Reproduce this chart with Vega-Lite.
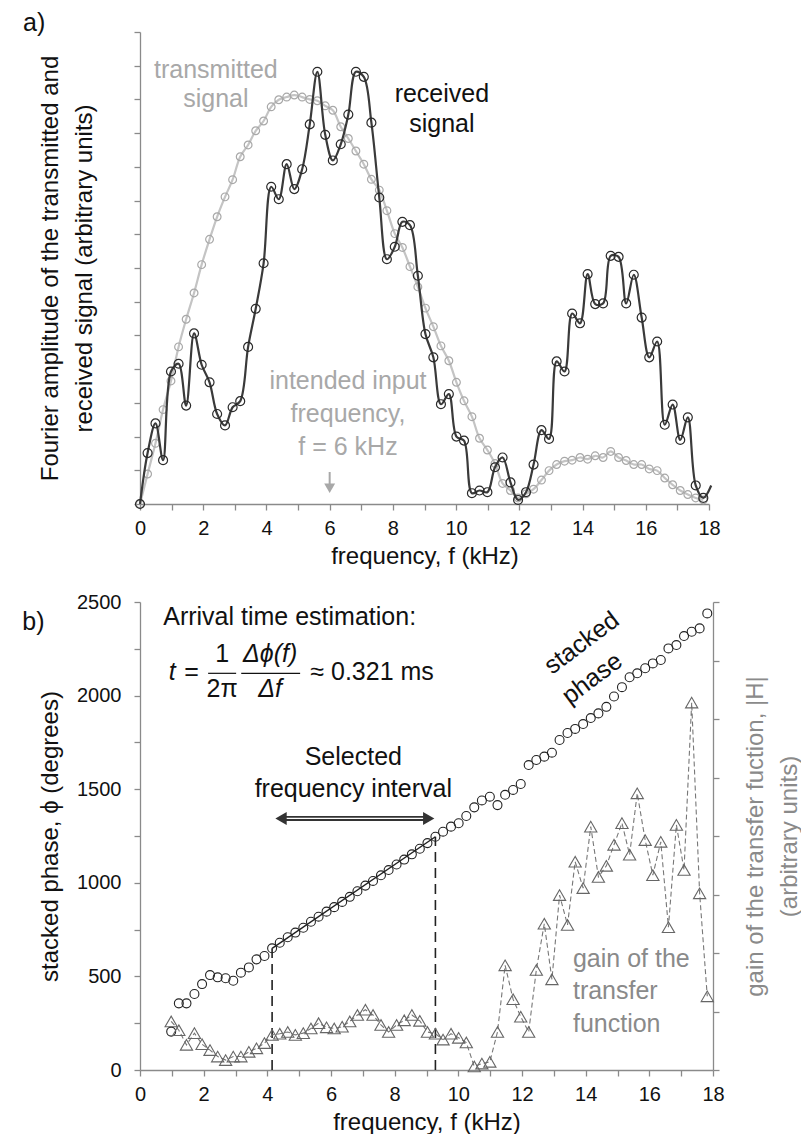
{
  "$schema": "https://vega.github.io/schema/vega-lite/v6.json",
  "padding": {"left": 22, "top": 10, "right": 0, "bottom": 0},
  "spacing": 24,
  "config": {
    "font": "Liberation Sans, Roboto, sans-serif",
    "view": {"stroke": null},
    "axis": {
      "grid": false,
      "domainColor": "#8a8a8a",
      "tickColor": "#8a8a8a",
      "domainWidth": 1.3,
      "tickWidth": 1.3,
      "tickSize": 6,
      "labelFont": "Liberation Sans, Roboto, sans-serif",
      "labelFontSize": 20,
      "labelColor": "#111111",
      "titleFont": "Liberation Sans, Roboto, sans-serif",
      "titleFontSize": 24,
      "titleFontWeight": "normal",
      "titleColor": "#111111",
      "labelOverlap": false,
      "labelFlush": false
    },
    "text": {"font": "Liberation Sans, Roboto, sans-serif", "fontSize": 25}
  },
  "datasets": {
    "received": [
      {"f": 0, "v": 0}, {"f": 0.24, "v": 1.51}, {"f": 0.49, "v": 2.39}, {"f": 0.73, "v": 1.30},
      {"f": 0.98, "v": 3.93}, {"f": 1.22, "v": 4.16}, {"f": 1.46, "v": 2.92}, {"f": 1.71, "v": 5.06},
      {"f": 1.95, "v": 4.13}, {"f": 2.20, "v": 3.61}, {"f": 2.44, "v": 2.67}, {"f": 2.69, "v": 2.33},
      {"f": 2.93, "v": 2.87}, {"f": 3.17, "v": 3.05}, {"f": 3.42, "v": 4.66}, {"f": 3.66, "v": 5.79},
      {"f": 3.91, "v": 7.14}, {"f": 4.15, "v": 9.41}, {"f": 4.39, "v": 9.04}, {"f": 4.64, "v": 10.08},
      {"f": 4.88, "v": 9.34}, {"f": 5.13, "v": 9.93}, {"f": 5.37, "v": 11.26}, {"f": 5.61, "v": 12.82},
      {"f": 5.86, "v": 10.95}, {"f": 6.10, "v": 10.19}, {"f": 6.35, "v": 10.67}, {"f": 6.59, "v": 11.55},
      {"f": 6.83, "v": 12.82}, {"f": 7.08, "v": 12.67}, {"f": 7.32, "v": 11.31}, {"f": 7.57, "v": 9.09},
      {"f": 7.81, "v": 7.26}, {"f": 8.06, "v": 7.63}, {"f": 8.30, "v": 8.37}, {"f": 8.54, "v": 8.27},
      {"f": 8.79, "v": 6.77}, {"f": 9.03, "v": 5.04}, {"f": 9.28, "v": 4.35}, {"f": 9.52, "v": 2.96},
      {"f": 9.77, "v": 3.26}, {"f": 10.01, "v": 2.00}, {"f": 10.25, "v": 1.88}, {"f": 10.50, "v": 0.32},
      {"f": 10.74, "v": 0.40}, {"f": 10.99, "v": 0.35}, {"f": 11.23, "v": 1.09}, {"f": 11.47, "v": 1.38},
      {"f": 11.72, "v": 0.64}, {"f": 11.96, "v": 0.12}, {"f": 12.21, "v": 0.35}, {"f": 12.45, "v": 1.17},
      {"f": 12.70, "v": 2.19}, {"f": 12.94, "v": 1.93}, {"f": 13.18, "v": 4.23}, {"f": 13.43, "v": 3.93},
      {"f": 13.67, "v": 5.65}, {"f": 13.92, "v": 5.36}, {"f": 14.16, "v": 6.82}, {"f": 14.40, "v": 5.93},
      {"f": 14.65, "v": 5.95}, {"f": 14.89, "v": 7.36}, {"f": 15.14, "v": 7.33}, {"f": 15.38, "v": 5.95},
      {"f": 15.62, "v": 6.80}, {"f": 15.87, "v": 5.53}, {"f": 16.11, "v": 4.35}, {"f": 16.36, "v": 4.82},
      {"f": 16.60, "v": 2.35}, {"f": 16.85, "v": 2.95}, {"f": 17.09, "v": 1.90}, {"f": 17.33, "v": 2.57},
      {"f": 17.58, "v": 0.55}, {"f": 17.82, "v": 0.18}, {"f": 18.07, "v": 0.55}
    ],
    "transmitted": [
      {"f": 0, "v": 0}, {"f": 0.24, "v": 0.89}, {"f": 0.49, "v": 1.80}, {"f": 0.73, "v": 2.80},
      {"f": 0.98, "v": 3.65}, {"f": 1.22, "v": 4.66}, {"f": 1.46, "v": 5.48}, {"f": 1.71, "v": 6.26},
      {"f": 1.95, "v": 7.10}, {"f": 2.20, "v": 7.85}, {"f": 2.44, "v": 8.52}, {"f": 2.69, "v": 9.11},
      {"f": 2.93, "v": 9.62}, {"f": 3.17, "v": 10.30}, {"f": 3.42, "v": 10.65}, {"f": 3.66, "v": 11.07},
      {"f": 3.91, "v": 11.36}, {"f": 4.15, "v": 11.78}, {"f": 4.39, "v": 11.99}, {"f": 4.64, "v": 12.07},
      {"f": 4.88, "v": 12.13}, {"f": 5.13, "v": 12.07}, {"f": 5.37, "v": 12.00}, {"f": 5.61, "v": 11.96},
      {"f": 5.86, "v": 11.81}, {"f": 6.10, "v": 11.68}, {"f": 6.35, "v": 11.19}, {"f": 6.59, "v": 10.84},
      {"f": 6.83, "v": 10.47}, {"f": 7.08, "v": 10.08}, {"f": 7.32, "v": 9.63}, {"f": 7.57, "v": 9.31},
      {"f": 7.81, "v": 8.70}, {"f": 8.06, "v": 8.02}, {"f": 8.30, "v": 7.61}, {"f": 8.54, "v": 7.04},
      {"f": 8.79, "v": 6.44}, {"f": 9.03, "v": 5.81}, {"f": 9.28, "v": 5.26}, {"f": 9.52, "v": 4.69},
      {"f": 9.77, "v": 4.25}, {"f": 10.01, "v": 3.61}, {"f": 10.25, "v": 3.06}, {"f": 10.50, "v": 2.59},
      {"f": 10.74, "v": 1.95}, {"f": 10.99, "v": 1.60}, {"f": 11.23, "v": 1.20}, {"f": 11.47, "v": 0.61},
      {"f": 11.72, "v": 0.40}, {"f": 11.96, "v": 0.18}, {"f": 12.21, "v": 0.30}, {"f": 12.45, "v": 0.44},
      {"f": 12.70, "v": 0.71}, {"f": 12.94, "v": 0.99}, {"f": 13.18, "v": 1.17}, {"f": 13.43, "v": 1.27},
      {"f": 13.67, "v": 1.30}, {"f": 13.92, "v": 1.38}, {"f": 14.16, "v": 1.33}, {"f": 14.40, "v": 1.43},
      {"f": 14.65, "v": 1.38}, {"f": 14.89, "v": 1.56}, {"f": 15.14, "v": 1.38}, {"f": 15.38, "v": 1.29},
      {"f": 15.62, "v": 1.17}, {"f": 15.87, "v": 1.17}, {"f": 16.11, "v": 1.04}, {"f": 16.36, "v": 0.99},
      {"f": 16.60, "v": 0.77}, {"f": 16.85, "v": 0.57}, {"f": 17.09, "v": 0.40}, {"f": 17.33, "v": 0.28},
      {"f": 17.58, "v": 0.18}, {"f": 17.82, "v": 0.12}
    ],
    "phase": [
      {"f": 0.98, "ph": 205}, {"f": 1.22, "ph": 356}, {"f": 1.46, "ph": 356}, {"f": 1.71, "ph": 406},
      {"f": 1.95, "ph": 459}, {"f": 2.20, "ph": 507}, {"f": 2.44, "ph": 495}, {"f": 2.69, "ph": 490},
      {"f": 2.93, "ph": 477}, {"f": 3.17, "ph": 520}, {"f": 3.42, "ph": 548}, {"f": 3.66, "ph": 591},
      {"f": 3.91, "ph": 609}, {"f": 4.15, "ph": 650}, {"f": 4.39, "ph": 680}, {"f": 4.64, "ph": 709},
      {"f": 4.88, "ph": 734}, {"f": 5.13, "ph": 760}, {"f": 5.37, "ph": 792}, {"f": 5.61, "ph": 819},
      {"f": 5.86, "ph": 846}, {"f": 6.10, "ph": 870}, {"f": 6.35, "ph": 898}, {"f": 6.59, "ph": 925},
      {"f": 6.83, "ph": 955}, {"f": 7.08, "ph": 985}, {"f": 7.32, "ph": 1010}, {"f": 7.57, "ph": 1040},
      {"f": 7.81, "ph": 1068}, {"f": 8.06, "ph": 1098}, {"f": 8.30, "ph": 1124}, {"f": 8.54, "ph": 1152},
      {"f": 8.79, "ph": 1182}, {"f": 9.03, "ph": 1212}, {"f": 9.28, "ph": 1246}, {"f": 9.52, "ph": 1273},
      {"f": 9.77, "ph": 1300}, {"f": 10.01, "ph": 1318}, {"f": 10.25, "ph": 1357}, {"f": 10.50, "ph": 1403},
      {"f": 10.74, "ph": 1440}, {"f": 10.99, "ph": 1460}, {"f": 11.23, "ph": 1415}, {"f": 11.47, "ph": 1470},
      {"f": 11.72, "ph": 1496}, {"f": 11.96, "ph": 1528}, {"f": 12.21, "ph": 1629}, {"f": 12.45, "ph": 1656},
      {"f": 12.70, "ph": 1674}, {"f": 12.94, "ph": 1695}, {"f": 13.18, "ph": 1763}, {"f": 13.43, "ph": 1800},
      {"f": 13.67, "ph": 1822}, {"f": 13.92, "ph": 1848}, {"f": 14.16, "ph": 1880}, {"f": 14.40, "ph": 1905},
      {"f": 14.65, "ph": 1940}, {"f": 14.89, "ph": 1995}, {"f": 15.14, "ph": 2045}, {"f": 15.38, "ph": 2098},
      {"f": 15.62, "ph": 2119}, {"f": 15.87, "ph": 2146}, {"f": 16.11, "ph": 2172}, {"f": 16.36, "ph": 2190},
      {"f": 16.60, "ph": 2252}, {"f": 16.85, "ph": 2270}, {"f": 17.09, "ph": 2318}, {"f": 17.33, "ph": 2341},
      {"f": 17.58, "ph": 2359}, {"f": 17.82, "ph": 2439}
    ],
    "gain": [
      {"f": 0.98, "g": 0.83}, {"f": 1.22, "g": 0.68}, {"f": 1.46, "g": 0.43}, {"f": 1.71, "g": 0.63},
      {"f": 1.95, "g": 0.44}, {"f": 2.20, "g": 0.34}, {"f": 2.44, "g": 0.23}, {"f": 2.69, "g": 0.17},
      {"f": 2.93, "g": 0.23}, {"f": 3.17, "g": 0.23}, {"f": 3.42, "g": 0.31}, {"f": 3.66, "g": 0.37},
      {"f": 3.91, "g": 0.46}, {"f": 4.15, "g": 0.60}, {"f": 4.39, "g": 0.62}, {"f": 4.64, "g": 0.65},
      {"f": 4.88, "g": 0.60}, {"f": 5.13, "g": 0.63}, {"f": 5.37, "g": 0.71}, {"f": 5.61, "g": 0.80},
      {"f": 5.86, "g": 0.73}, {"f": 6.10, "g": 0.71}, {"f": 6.35, "g": 0.74}, {"f": 6.59, "g": 0.83},
      {"f": 6.83, "g": 0.94}, {"f": 7.08, "g": 1.03}, {"f": 7.32, "g": 0.94}, {"f": 7.57, "g": 0.77},
      {"f": 7.81, "g": 0.65}, {"f": 8.06, "g": 0.77}, {"f": 8.30, "g": 0.85}, {"f": 8.54, "g": 0.94},
      {"f": 8.79, "g": 0.84}, {"f": 9.03, "g": 0.65}, {"f": 9.28, "g": 0.62}, {"f": 9.52, "g": 0.52},
      {"f": 9.77, "g": 0.62}, {"f": 10.01, "g": 0.55}, {"f": 10.25, "g": 0.47}, {"f": 10.50, "g": 0.06},
      {"f": 10.74, "g": 0.11}, {"f": 10.99, "g": 0.14}, {"f": 11.23, "g": 0.65}, {"f": 11.47, "g": 1.79},
      {"f": 11.72, "g": 1.21}, {"f": 11.96, "g": 0.91}, {"f": 12.21, "g": 0.65}, {"f": 12.45, "g": 1.71},
      {"f": 12.70, "g": 2.50}, {"f": 12.94, "g": 1.55}, {"f": 13.18, "g": 2.99}, {"f": 13.43, "g": 2.48},
      {"f": 13.67, "g": 3.56}, {"f": 13.92, "g": 3.11}, {"f": 14.16, "g": 4.16}, {"f": 14.40, "g": 3.30},
      {"f": 14.65, "g": 3.49}, {"f": 14.89, "g": 3.85}, {"f": 15.14, "g": 4.22}, {"f": 15.38, "g": 3.68},
      {"f": 15.62, "g": 4.73}, {"f": 15.87, "g": 3.93}, {"f": 16.11, "g": 3.33}, {"f": 16.36, "g": 3.90},
      {"f": 16.60, "g": 2.44}, {"f": 16.85, "g": 4.19}, {"f": 17.09, "g": 3.42}, {"f": 17.33, "g": 6.28},
      {"f": 17.58, "g": 3.02}, {"f": 17.82, "g": 1.26}
    ],
    "labelsA_dark": [
      {"f": 9.55, "v": 11.91, "label": "received"},
      {"f": 9.55, "v": 11.02, "label": "signal"},
      {"f": -3.35, "v": 14.04, "label": "a)"}
    ],
    "labelsA_gray": [
      {"f": 2.40, "v": 12.65, "label": "transmitted"},
      {"f": 2.40, "v": 11.78, "label": "signal"},
      {"f": 6.58, "v": 3.41, "label": "intended input"},
      {"f": 6.58, "v": 2.42, "label": "frequency,"},
      {"f": 6.58, "v": 1.44, "label": "f = 6 kHz"}
    ],
    "arrowA": [{"f": 6.0, "v": 0.95, "v2": 0.55}],
    "arrowHeadA": [{"f": 6.0, "v": 0.47}],
    "labelsB_left": [
      {"f": 0.73, "ph": 2377, "label": "Arrival time estimation:"},
      {"f": 5.35, "ph": 2083, "label": "≈ 0.321 ms"}
    ],
    "labelsB_center": [
      {"f": 6.70, "ph": 1629, "label": "Selected"},
      {"f": 6.70, "ph": 1458, "label": "frequency interval"},
      {"f": 2.58, "ph": 2181, "label": "1"},
      {"f": 2.58, "ph": 1994, "label": "2π"},
      {"f": 1.62, "ph": 2083, "label": "="},
      {"f": -3.35, "ph": 2350, "label": "b)"}
    ],
    "labelsB_italic": [
      {"f": 1.01, "ph": 2083, "label": "t"},
      {"f": 4.09, "ph": 2181, "label": "Δϕ(f)"},
      {"f": 4.09, "ph": 1994, "label": "Δf"}
    ],
    "labelsB_gain": [
      {"f": 13.60, "ph": 552, "label": "gain of the"},
      {"f": 13.60, "ph": 378, "label": "transfer"},
      {"f": 13.60, "ph": 205, "label": "function"}
    ],
    "labelsB_slanted": [
      {"f": 13.87, "ph": 2282, "label": "stacked"},
      {"f": 14.20, "ph": 2092, "label": "phase"}
    ],
    "fractionBars": [
      {"f": 2.14, "f2": 3.02, "ph": 2119},
      {"f": 3.18, "f2": 5.03, "ph": 2119}
    ],
    "intervalEdges": [
      {"f": 4.15, "ph": 0, "ph2": 650},
      {"f": 9.28, "ph": 0, "ph2": 1246}
    ],
    "fitLine": [
      {"f": 4.15, "ph": 650},
      {"f": 9.28, "ph": 1246}
    ],
    "intervalSpan": [{"f": 4.43, "f2": 9.07, "ph": 1344}],
    "spanLeftHead": [{"f": 4.43, "ph": 1344}],
    "spanRightHead": [{"f": 9.07, "ph": 1344}]
  },
  "vconcat": [
    {
      "width": 569,
      "height": 472,
      "encoding": {
        "x": {
          "field": "f",
          "type": "quantitative",
          "scale": {"domain": [0, 18], "nice": false, "zero": false},
          "axis": {
            "values": [0, 1, 2, 3, 4, 5, 6, 7, 8, 9, 10, 11, 12, 13, 14, 15, 16, 17, 18],
            "labelExpr": "datum.value % 2 == 0 ? datum.label : ''",
            "labelPadding": 8,
            "title": "frequency, f (kHz)",
            "titlePadding": 6
          }
        },
        "y": {
          "field": "v",
          "type": "quantitative",
          "scale": {"domain": [0, 14], "nice": false},
          "axis": {
            "values": [0, 1, 2, 3, 4, 5, 6, 7, 8, 9, 10, 11, 12, 13, 14],
            "labels": false,
            "title": ["Fourier amplitude of the transmitted and", "received signal (arbitrary units)"],
            "titleLineHeight": 34,
            "titleX": -78,
            "titleY": 236
          }
        }
      },
      "layer": [
        {"data": {"name": "transmitted"}, "mark": {"type": "line", "interpolate": "catmull-rom", "color": "#c4c4c4", "strokeWidth": 2.2}},
        {"data": {"name": "transmitted"}, "mark": {"type": "point", "shape": "circle", "filled": false, "size": 60, "color": "#a8a8a8", "strokeWidth": 1.2, "opacity": 1}},
        {"data": {"name": "received"}, "mark": {"type": "line", "interpolate": "catmull-rom", "color": "#3a3a3a", "strokeWidth": 2.2}},
        {"data": {"name": "received"}, "transform": [{"filter": "datum.f <= 18"}], "mark": {"type": "point", "shape": "circle", "filled": false, "size": 80, "color": "#2a2a2a", "strokeWidth": 1.2, "opacity": 1}},
        {"data": {"name": "arrowA"}, "mark": {"type": "rule", "color": "#a8a8a8", "strokeWidth": 2}, "encoding": {"y2": {"field": "v2"}}},
        {"data": {"name": "arrowHeadA"}, "mark": {"type": "point", "shape": "triangle-down", "filled": true, "size": 120, "color": "#a8a8a8", "opacity": 1}},
        {"data": {"name": "labelsA_gray"}, "mark": {"type": "text", "align": "center", "baseline": "alphabetic", "color": "#a8a8a8"}, "encoding": {"text": {"field": "label"}}},
        {"data": {"name": "labelsA_dark"}, "mark": {"type": "text", "align": "center", "baseline": "alphabetic", "color": "#111111"}, "encoding": {"text": {"field": "label"}}}
      ]
    },
    {
      "width": 573,
      "height": 468,
      "encoding": {
        "x": {
          "field": "f",
          "type": "quantitative",
          "scale": {"domain": [0, 18], "nice": false, "zero": false},
          "axis": {
            "values": [0, 1, 2, 3, 4, 5, 6, 7, 8, 9, 10, 11, 12, 13, 14, 15, 16, 17, 18],
            "labelExpr": "datum.value % 2 == 0 ? datum.label : ''",
            "labelPadding": 8,
            "title": "frequency, f (kHz)",
            "titlePadding": 6
          }
        }
      },
      "layer": [
        {
          "encoding": {
            "y": {
              "field": "ph",
              "type": "quantitative",
              "scale": {"domain": [0, 2500], "nice": false},
              "axis": {
                "values": [0, 250, 500, 750, 1000, 1250, 1500, 1750, 2000, 2250, 2500],
                "format": "d",
                "labelExpr": "datum.value % 500 == 0 ? datum.label : ''",
                "labelPadding": 13,
                "title": "stacked phase, ϕ (degrees)",
                "titleX": -78,
                "titleY": 234
              }
            }
          },
          "layer": [
            {"data": {"name": "intervalEdges"}, "mark": {"type": "rule", "color": "#222222", "strokeWidth": 1.6, "strokeDash": [10, 6]}, "encoding": {"y2": {"field": "ph2"}}},
            {"data": {"name": "fitLine"}, "mark": {"type": "line", "color": "#222222", "strokeWidth": 1.4}},
            {"data": {"name": "phase"}, "mark": {"type": "point", "shape": "circle", "filled": false, "size": 80, "color": "#222222", "strokeWidth": 1.1, "opacity": 1}},
            {"data": {"name": "intervalSpan"}, "mark": {"type": "rule", "color": "#333333", "strokeWidth": 5}, "encoding": {"x2": {"field": "f2"}}},
            {"data": {"name": "intervalSpan"}, "mark": {"type": "rule", "color": "#ffffff", "strokeWidth": 1.4}, "encoding": {"x2": {"field": "f2"}}},
            {"data": {"name": "spanLeftHead"}, "mark": {"type": "point", "shape": "triangle-left", "filled": true, "size": 170, "color": "#333333", "opacity": 1}},
            {"data": {"name": "spanRightHead"}, "mark": {"type": "point", "shape": "triangle-right", "filled": true, "size": 170, "color": "#333333", "opacity": 1}},
            {"data": {"name": "fractionBars"}, "mark": {"type": "rule", "color": "#111111", "strokeWidth": 1.2}, "encoding": {"x2": {"field": "f2"}}},
            {"data": {"name": "labelsB_left"}, "mark": {"type": "text", "align": "left", "baseline": "alphabetic", "color": "#111111"}, "encoding": {"text": {"field": "label"}}},
            {"data": {"name": "labelsB_center"}, "mark": {"type": "text", "align": "center", "baseline": "alphabetic", "color": "#111111"}, "encoding": {"text": {"field": "label"}}},
            {"data": {"name": "labelsB_italic"}, "mark": {"type": "text", "align": "center", "baseline": "alphabetic", "fontStyle": "italic", "color": "#111111"}, "encoding": {"text": {"field": "label"}}},
            {"data": {"name": "labelsB_gain"}, "mark": {"type": "text", "align": "left", "baseline": "alphabetic", "color": "#8a8a8a"}, "encoding": {"text": {"field": "label"}}},
            {"data": {"name": "labelsB_slanted"}, "mark": {"type": "text", "align": "center", "baseline": "middle", "angle": 323, "color": "#111111"}, "encoding": {"text": {"field": "label"}}}
          ]
        },
        {
          "encoding": {
            "y": {
              "field": "g",
              "type": "quantitative",
              "scale": {"domain": [0, 8], "nice": false},
              "axis": {
                "orient": "right",
                "values": [0, 1, 2, 3, 4, 5, 6, 7, 8],
                "labels": false,
                "title": ["gain of the transfer fuction, |H|", "(arbitrary units)"],
                "titleColor": "#8a8a8a",
                "titleAngle": 270,
                "titleBaseline": "top",
                "titleAlign": "center",
                "titleLineHeight": 34,
                "titleX": 30,
                "titleY": 234
              }
            }
          },
          "layer": [
            {"data": {"name": "gain"}, "mark": {"type": "line", "color": "#777777", "strokeWidth": 1.1, "strokeDash": [5, 3]}},
            {"data": {"name": "gain"}, "mark": {"type": "point", "shape": "triangle-up", "filled": false, "size": 150, "color": "#666666", "strokeWidth": 1.1, "opacity": 1}}
          ]
        }
      ],
      "resolve": {"scale": {"y": "independent"}}
    }
  ]
}
